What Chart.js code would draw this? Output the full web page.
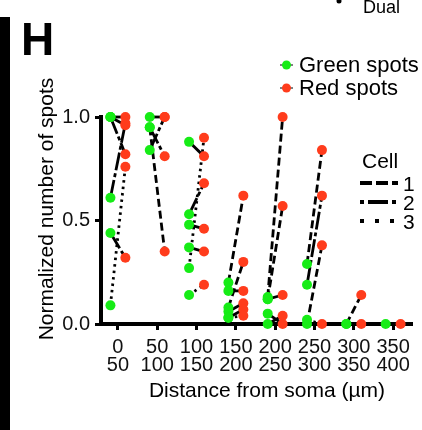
<!DOCTYPE html>
<html>
<head>
    <title>Normalized number of spots vs distance from soma</title>
    <script src="https://cdn.jsdelivr.net/npm/chart.js"></script>
    <style>
        body { margin: 0; background: #fff; }
        #wrap { width: 422px; height: 430px; position: relative; }
    </style>
</head>
<body>
    <div id="wrap"><canvas id="chart"></canvas></div>

    <script>
        // Distance bins, shown as two-line tick labels
        var binStart = ['0', '50', '100', '150', '200', '250', '300', '350'];
        var binEnd   = ['50', '100', '150', '200', '250', '300', '350', '400'];

        // One entry per green/red pair joined by a line (bin index, values, cell number)
        var pairBin   = [0, 0, 0, 0, 0, 0,   1, 1, 1, 1,   2, 2, 2, 2, 2, 2,   3, 3, 3, 3, 3, 3,   4, 4, 4, 4, 4,   5, 5, 5, 5,   6, 6,   7];
        var pairGreen = [1.00, 1.00, 1.00, 0.61, 0.44, 0.09,
                         1.00, 0.84, 0.95, 0.95,
                         0.88, 0.27, 0.53, 0.48, 0.37, 0.14,
                         0.20, 0.08, 0.16, 0.06, 0.03, 0.03,
                         0.13, 0.12, 0.12, 0.00, 0.05,
                         0.29, 0.19, 0.00, 0.02,
                         0.00, 0.00,
                         0.00];
        var pairRed   = [1.00, 0.96, 0.82, 0.97, 0.32, 0.76,
                         1.00, 1.00, 0.81, 0.35,
                         0.81, 0.90, 0.68, 0.46, 0.35, 0.19,
                         0.62, 0.30, 0.16, 0.10, 0.07, 0.04,
                         1.00, 0.57, 0.14, 0.04, 0.00,
                         0.84, 0.62, 0.38, 0.00,
                         0.14, 0.00,
                         0.00];
        var pairCell  = [2, 2, 2, 2, 2, 3,
                         2, 2, 2, 1,
                         2, 3, 2, 2, 2, 3,
                         1, 1, 2, 2, 2, 3,
                         1, 1, 2, 2, 2,
                         1, 2, 1, 3,
                         1, 3,
                         3];

        var greenColor = '#16ec16';
        var redColor = '#ff3c1c';
        var shift = 0.19;   // green left of the bin centre, red right of it
        var cellDash = { 1: [8, 4], 2: [18, 3, 4, 3], 3: [2.5, 4] };
        var legendDash = { 1: [12, 4], 2: [4, 4, 20, 4], 3: [4, 11] };
        var fontName = '"Liberation Sans", Arial, sans-serif';

        var datasets = [];
        var greenPts = [];
        var redPts = [];
        for (var i = 0; i < pairBin.length; i++) {
            var g = { x: pairBin[i] - shift, y: pairGreen[i] };
            var r = { x: pairBin[i] + shift, y: pairRed[i] };
            greenPts.push(g);
            redPts.push(r);
            datasets.push({
                label: 'cell ' + pairCell[i],
                data: [g, r],
                showLine: true,
                borderColor: '#000',
                borderWidth: 2.8,
                borderDash: cellDash[pairCell[i]],
                pointRadius: 0,
                clip: false,
                order: 2
            });
        }
        datasets.push({
            label: 'Green spots',
            data: greenPts,
            pointRadius: 5,
            pointBackgroundColor: greenColor,
            pointBorderWidth: 0,
            showLine: false,
            clip: false,
            order: 1
        });
        datasets.push({
            label: 'Red spots',
            data: redPts,
            pointRadius: 5,
            pointBackgroundColor: redColor,
            pointBorderWidth: 0,
            showLine: false,
            clip: false,
            order: 0
        });

        // Texts and legends around the plot
        var decorations = {
            id: 'decorations',
            afterDraw: function(chart) {
                var ctx = chart.ctx;
                ctx.save();
                ctx.fillStyle = '#000';
                ctx.strokeStyle = '#000';

                // edge of the neighbouring panel
                ctx.fillRect(0, 17, 10, 413);

                ctx.textBaseline = 'alphabetic';
                ctx.textAlign = 'left';
                ctx.font = 'bold 46px ' + fontName;
                ctx.fillText('H', 21, 55);
                ctx.font = '18px ' + fontName;
                ctx.fillText('Dual', 363, 13);
                ctx.beginPath();
                ctx.arc(339, 1, 2.5, 0, Math.PI * 2);
                ctx.fill();

                // axis titles
                ctx.font = '21px ' + fontName;
                ctx.textAlign = 'center';
                ctx.fillText('Distance from soma (\u00b5m)', 267, 397);
                ctx.save();
                ctx.translate(53, 209);
                ctx.rotate(-Math.PI / 2);
                ctx.fillText('Normalized number of spots', 0, 0);
                ctx.restore();

                // spot legend
                ctx.textAlign = 'left';
                ctx.font = '22px ' + fontName;
                [['Green spots', greenColor, 65, 72], ['Red spots', redColor, 88, 95]].forEach(function(item) {
                    ctx.lineWidth = 1;
                    ctx.setLineDash([]);
                    ctx.beginPath();
                    ctx.moveTo(280, item[2]);
                    ctx.lineTo(293, item[2]);
                    ctx.stroke();
                    ctx.fillStyle = item[1];
                    ctx.beginPath();
                    ctx.arc(286.5, item[2], 4.5, 0, Math.PI * 2);
                    ctx.fill();
                    ctx.fillStyle = '#000';
                    ctx.fillText(item[0], 299, item[3]);
                });

                // cell legend
                ctx.font = '21px ' + fontName;
                ctx.fillText('Cell', 362, 168);
                [1, 2, 3].forEach(function(c, k) {
                    var y = 183 + k * 19;
                    ctx.lineWidth = 4;
                    ctx.setLineDash(legendDash[c]);
                    ctx.beginPath();
                    ctx.moveTo(360, y);
                    ctx.lineTo(398, y);
                    ctx.stroke();
                    ctx.setLineDash([]);
                    ctx.fillText(String(c), 403, y + 8);
                });
                ctx.restore();
            }
        };

        var ctx = document.getElementById('chart').getContext('2d');
        new Chart(ctx, {
            type: 'scatter',
            data: { datasets: datasets },
            plugins: [decorations],
            options: {
                responsive: true,
                maintainAspectRatio: false,
                animation: false,
                layout: { padding: { top: 117, right: 10, bottom: 0, left: 0 } },
                plugins: {
                    legend: { display: false },
                    tooltip: { enabled: false }
                },
                scales: {
                    x: {
                        type: 'linear',
                        min: -0.43,
                        max: 7.48,
                        afterBuildTicks: function(scale) {
                            scale.ticks = binStart.map(function(_, i) { return { value: i }; });
                        },
                        afterFit: function(scale) { scale.height = 106; },
                        ticks: {
                            autoSkip: false,
                            maxRotation: 0,
                            padding: 8,
                            color: '#111',
                            font: { family: fontName, size: 20, lineHeight: 0.92 },
                            callback: function(value) {
                                return [binStart[value], binEnd[value]];
                            }
                        },
                        grid: {
                            drawOnChartArea: false,
                            tickLength: 6,
                            tickWidth: 3,
                            tickColor: '#000'
                        },
                        border: { color: '#000', width: 4 }
                    },
                    y: {
                        min: 0,
                        max: 1,
                        afterFit: function(scale) { scale.width = 101; },
                        ticks: {
                            stepSize: 0.5,
                            padding: 5,
                            color: '#111',
                            font: { family: fontName, size: 20 },
                            callback: function(value) { return value.toFixed(1); }
                        },
                        grid: {
                            drawOnChartArea: false,
                            tickLength: 6,
                            tickWidth: 3,
                            tickColor: '#000'
                        },
                        border: { color: '#000', width: 4 }
                    }
                }
            }
        });
    </script>
</body>
</html>
